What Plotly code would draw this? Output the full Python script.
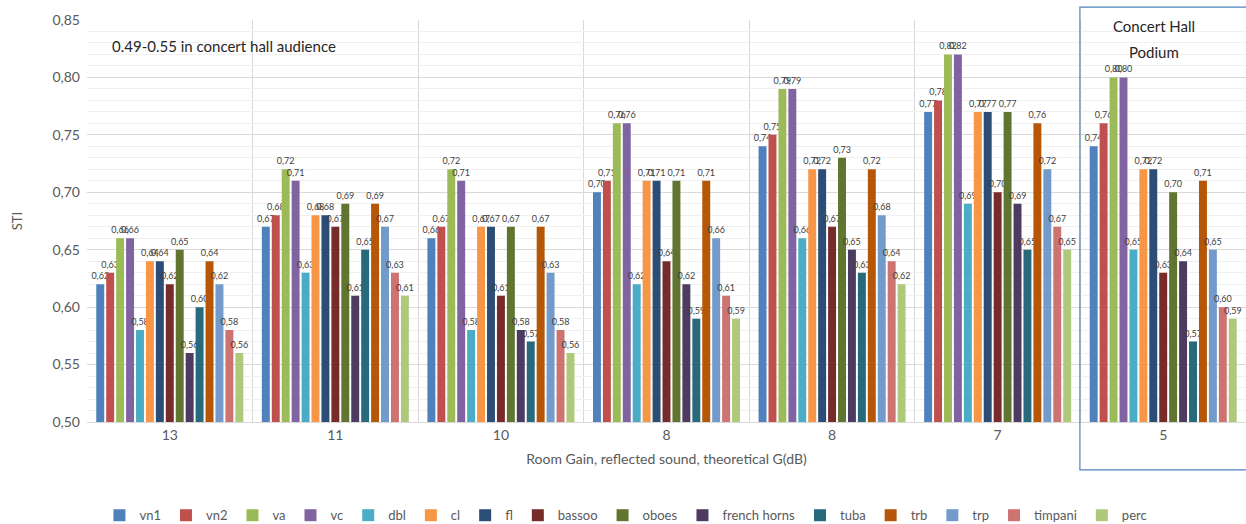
import plotly.graph_objects as go

room_gain = ["13", "11", "10", "8", "8", "7", "5"]

instruments = ["vn1", "vn2", "va", "vc", "dbl", "cl", "fl", "bassoo", "oboes",
               "french horns", "tuba", "trb", "trp", "timpani", "perc"]

colors = ["#4F81BD", "#C0504D", "#9BBB59", "#8064A2", "#4BACC6", "#F79646",
          "#2C4D75", "#772C2A", "#5F7530", "#4D3B62", "#276A7C", "#B65708",
          "#729ACA", "#CD7371", "#AFC97A"]

# STI per instrument, one value per room gain group
vn1 = [0.62, 0.67, 0.66, 0.70, 0.74, 0.77, 0.74]
vn2 = [0.63, 0.68, 0.67, 0.71, 0.75, 0.78, 0.76]
va = [0.66, 0.72, 0.72, 0.76, 0.79, 0.82, 0.80]
vc = [0.66, 0.71, 0.71, 0.76, 0.79, 0.82, 0.80]
dbl = [0.58, 0.63, 0.58, 0.62, 0.66, 0.69, 0.65]
cl = [0.64, 0.68, 0.67, 0.71, 0.72, 0.77, 0.72]
fl = [0.64, 0.68, 0.67, 0.71, 0.72, 0.77, 0.72]
bassoo = [0.62, 0.67, 0.61, 0.64, 0.67, 0.70, 0.63]
oboes = [0.65, 0.69, 0.67, 0.71, 0.73, 0.77, 0.70]
french_horns = [0.56, 0.61, 0.58, 0.62, 0.65, 0.69, 0.64]
tuba = [0.60, 0.65, 0.57, 0.59, 0.63, 0.65, 0.57]
trb = [0.64, 0.69, 0.67, 0.71, 0.72, 0.76, 0.71]
trp = [0.62, 0.67, 0.63, 0.66, 0.68, 0.72, 0.65]
timpani = [0.58, 0.63, 0.58, 0.61, 0.64, 0.67, 0.60]
perc = [0.56, 0.61, 0.56, 0.59, 0.62, 0.65, 0.59]

series = [vn1, vn2, va, vc, dbl, cl, fl, bassoo, oboes,
          french_horns, tuba, trb, trp, timpani, perc]

FONT = "Lato, 'Open Sans', sans-serif"
positions = list(range(len(room_gain)))

fig = go.Figure()
for name, vals, col in zip(instruments, series, colors):
    fig.add_trace(go.Bar(
        x=positions,
        y=vals,
        name=name,
        marker=dict(color=col, line=dict(width=0)),
        text=[f"{v:.2f}".replace(".", ",") for v in vals],
        textposition="outside",
        textfont=dict(size=9, color="#404040", family=FONT),
        constraintext="none",
        cliponaxis=True,
    ))

fig.update_layout(
    barmode="group",
    bargap=0.1,
    bargroupgap=0.2,
    width=1246,
    height=524,
    margin=dict(l=87, r=0, t=20, b=102, autoexpand=False),
    paper_bgcolor="white",
    plot_bgcolor="white",
    separators=", ",
    font=dict(family=FONT, size=13, color="#595959"),
    legend=dict(orientation="h", x=0.465, xanchor="center", y=-0.232,
                yanchor="middle", font=dict(size=13, color="#595959"),
                itemwidth=30, tracegroupgap=0),
    xaxis=dict(
        automargin=False,
        range=[-0.5, 6.5],
        tickmode="array",
        tickvals=positions,
        ticktext=room_gain,
        showgrid=False,
        showline=True,
        linecolor="#D9D9D9",
        ticks="",
        tickfont=dict(size=14, color="#595959"),
        title=dict(text="Room Gain, reflected sound, theoretical G(dB)",
                   font=dict(size=14, color="#595959"), standoff=12),
        minor=dict(tickmode="linear", tick0=-0.5, dtick=1, showgrid=True,
                   gridcolor="#D9D9D9", gridwidth=1, ticks=""),
    ),
    yaxis=dict(
        automargin=False,
        range=[0.5, 0.85],
        dtick=0.05,
        tickformat=".2f",
        showgrid=True,
        gridcolor="#D9D9D9",
        zeroline=False,
        ticklabelstandoff=6,
        tickfont=dict(size=14, color="#595959"),
        title=dict(text="STI", font=dict(size=13, color="#595959"), standoff=26),
        minor=dict(dtick=0.01, showgrid=True, gridcolor="#F0F0F0", gridwidth=1),
    ),
)

fig.add_shape(type="rect", xref="paper", yref="paper",
              x0=0.8567, x1=1.005, y0=-0.119, y1=1.032,
              line=dict(color="#4F81BD", width=1.2), fillcolor="rgba(0,0,0,0)")

fig.add_annotation(xref="paper", yref="paper", x=0.921, y=0.985,
                   xanchor="center", yanchor="middle", showarrow=False,
                   text="Concert Hall",
                   font=dict(size=15, color="#262626", family=FONT))
fig.add_annotation(xref="paper", yref="paper", x=0.921, y=0.92,
                   xanchor="center", yanchor="middle", showarrow=False,
                   text="Podium",
                   font=dict(size=15, color="#262626", family=FONT))

fig.add_annotation(xref="paper", yref="paper", x=0.02, y=0.935,
                   xanchor="left", yanchor="middle", showarrow=False,
                   text="0.49-0.55 in concert hall audience",
                   font=dict(size=15, color="#262626", family=FONT))

fig.write_html("out.html", config={"displayModeBar": False},
               post_script="document.body.style.margin='0';")
